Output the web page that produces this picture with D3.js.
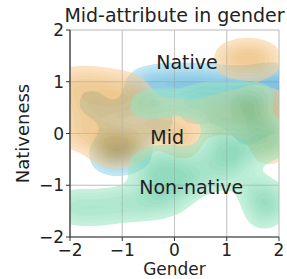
<!DOCTYPE html>
<html>
  <head>
    <meta charset="UTF-8">
    <script src="https://d3js.org/d3.v7.min.js"></script>
    <style>
      body { margin: 0; background: #fff; }
      text { font-family: "DejaVu Sans", sans-serif; fill: #222; }
    </style>
  </head>
  <body>
    <svg id="chart" width="287" height="279"></svg>
    <script>
      // groups and tick values
      var groups = ["Native", "Mid", "Non-native"];
      var ticks = [-2, -1, 0, 1, 2];

      // sample points: [gender, nativeness, weight]
      var nativePts = [
        [-0.6, 0.9, 1], [-0.2, 0.95, 1.1], [0.2, 0.95, 1.1], [0.6, 0.95, 1.1],
        [1.0, 0.9, 1.1], [1.4, 0.9, 1.1], [1.8, 0.95, 1.2], [2.1, 0.9, 1],
        [-1.6, 0.6, 0.5], [-1.2, 0.3, 0.5], [-0.8, 0.4, 0.5], [-0.3, 0.2, 0.5],
        [0.4, 0.4, 0.5], [1.0, 0.4, 0.6], [1.5, 0.5, 1.0], [1.9, 0.3, 0.6],
        [1.4, 0.0, 0.5], [-1.0, -0.4, 1], [-1.3, -0.4, 0.9], [-0.7, -0.35, 0.6]
      ];
      var midPts = [
        [1.05, 1.42, 1], [1.4, 1.47, 1.2], [1.75, 1.42, 1],
        [-2.0, 0.95, 1], [-1.6, 0.95, 1], [-1.2, 0.9, 1], [-0.8, 0.85, 0.8],
        [-1.9, 0.5, 1], [-1.5, 0.5, 1], [-1.1, 0.5, 1], [-0.7, 0.5, 0.8],
        [-1.9, 0.0, 1], [-1.5, 0.0, 1], [-1.1, -0.1, 1], [-0.7, -0.05, 0.8],
        [-1.3, -0.3, 1.1], [-0.9, -0.3, 1.1],
        [-0.3, 0.05, 0.9], [0.1, 0.0, 0.9], [0.2, -0.2, 0.7], [-0.3, 0.45, 0.6], [0.2, 0.45, 0.6],
        [0.8, 0.45, 0.8], [1.2, 0.45, 1], [1.55, 0.5, 1.4], [2.0, 0.5, 1],
        [1.4, 0.15, 0.8], [1.9, 0.1, 0.8], [1.8, -0.3, 1], [0.7, 0.2, 0.6]
      ];
      var nonNativePts = [
        [-2.0, -1.42, 0.85], [-1.6, -1.44, 0.85], [-1.2, -1.4, 0.85], [-0.8, -1.34, 0.85],
        [-0.45, -1.3, 0.9], [-0.1, -1.25, 0.9],
        [-0.6, -0.65, 0.8], [-0.2, -0.6, 1.2], [0.2, -0.65, 1], [-0.3, -0.95, 1],
        [0.2, -1.0, 1], [0.6, -0.8, 0.8], [1.0, -0.75, 0.8], [1.0, -0.4, 0.8],
        [1.3, -0.35, 1.2], [1.7, -0.2, 0.8], [0.7, -0.35, 0.8], [1.0, 0.0, 0.7],
        [1.6, 0.1, 0.7], [2.0, -0.1, 0.7],
        [1.55, -1.1, 1], [1.7, -1.5, 1], [1.9, -1.3, 0.8],
        [-0.6, 0.55, 0.6], [-0.2, 0.6, 0.6], [0.3, 0.6, 0.7], [0.7, 0.75, 0.6],
        [1.2, 0.75, 0.6], [1.7, 0.75, 0.5], [1.4, 0.45, 0.8], [0.8, 0.3, 0.6],
        [-1.3, 0.45, 0.4]
      ];
      // label anchors in data units
      var labelPos = [[0.24, 1.38], [-0.14, -0.07], [0.32, -1.03]];

      var groupPts = [nativePts, midPts, nonNativePts];
      var lightCols = ["#8ed4ee", "#f9cc92", "#96e6c0"];
      var darkCols = ["#1c94cc", "#d88c18", "#3cbf8c"];

      var svg = d3.select("#chart");
      var pL = 70, pR = 279, pT = 30, pB = 237;

      var x = d3.scaleLinear().domain([-2, 2]).range([pL, pR]);
      var y = d3.scaleLinear().domain([-2, 2]).range([pB, pT]);

      svg.append("clipPath").attr("id", "clip")
        .append("rect").attr("x", pL).attr("y", pT)
        .attr("width", pR - pL).attr("height", pB - pT);

      // grid
      var grid = svg.append("g").attr("stroke", "#c4c4c4").attr("stroke-width", 1);
      ticks.forEach(function(t) {
        grid.append("line").attr("x1", x(t)).attr("x2", x(t)).attr("y1", pT).attr("y2", pB);
        grid.append("line").attr("y1", y(t)).attr("y2", y(t)).attr("x1", pL).attr("x2", pR);
      });

      // density fills
      var plot = svg.append("g").attr("clip-path", "url(#clip)");
      var nLevels = 9;
      groupPts.forEach(function(pts, gi) {
        var density = d3.contourDensity()
          .x(function(d) { return x(d[0]); })
          .y(function(d) { return y(d[1]); })
          .weight(function(d) { return d[2]; })
          .size([287, 279])
          .cellSize(2)
          .bandwidth(11);
        var c = density.contours(pts);
        var col = d3.interpolateRgb(lightCols[gi], darkCols[gi]);
        var g = plot.append("g").attr("opacity", 0.55);
        d3.range(nLevels).forEach(function(i) {
          var thr = c.max * (0.17 + 0.78 * i / nLevels);
          g.append("path")
            .attr("d", d3.geoPath()(c(thr)))
            .attr("fill", col(i / (nLevels - 1)));
        });
      });

      // grid shows through the fills
      var grid2 = svg.append("g").attr("stroke", "#c4c4c4").attr("stroke-width", 1).attr("opacity", 0.35);
      ticks.forEach(function(t) {
        grid2.append("line").attr("x1", x(t)).attr("x2", x(t)).attr("y1", pT).attr("y2", pB);
        grid2.append("line").attr("y1", y(t)).attr("y2", y(t)).attr("x1", pL).attr("x2", pR);
      });

      // axes
      var axisCol = "#333";
      svg.append("line").attr("x1", pL).attr("x2", pL).attr("y1", pT).attr("y2", pB + 0.5)
        .attr("stroke", axisCol).attr("stroke-width", 1.2);
      svg.append("line").attr("x1", pL).attr("x2", pR).attr("y1", pB).attr("y2", pB)
        .attr("stroke", axisCol).attr("stroke-width", 1.2);

      var fmt = function(t) { return t < 0 ? "\u2212" + Math.abs(t) : String(t); };
      ticks.forEach(function(t) {
        svg.append("line").attr("x1", x(t)).attr("x2", x(t)).attr("y1", pB).attr("y2", pB + 4)
          .attr("stroke", axisCol);
        svg.append("text").attr("x", x(t)).attr("y", pB + 19).attr("text-anchor", "middle")
          .attr("font-size", 17).text(fmt(t));
        svg.append("line").attr("x1", pL - 4).attr("x2", pL).attr("y1", y(t)).attr("y2", y(t))
          .attr("stroke", axisCol);
        svg.append("text").attr("x", pL - 6).attr("y", y(t) + 6).attr("text-anchor", "end")
          .attr("font-size", 17).text(fmt(t));
      });

      // labels
      svg.append("text").attr("x", (pL + pR) / 2).attr("y", 22).attr("text-anchor", "middle")
        .attr("font-size", 19).text("Mid-attribute in gender");
      svg.append("text").attr("x", (pL + pR) / 2).attr("y", 275).attr("text-anchor", "middle")
        .attr("font-size", 17).text("Gender");
      svg.append("text").attr("transform", "translate(29," + ((pT + pB) / 2) + ") rotate(-90)")
        .attr("text-anchor", "middle").attr("font-size", 18).text("Nativeness");

      groups.forEach(function(name, i) {
        svg.append("text").attr("x", x(labelPos[i][0])).attr("y", y(labelPos[i][1]) + 7)
          .attr("text-anchor", "middle").attr("font-size", 19).text(name);
      });
    </script>
  </body>
</html>
